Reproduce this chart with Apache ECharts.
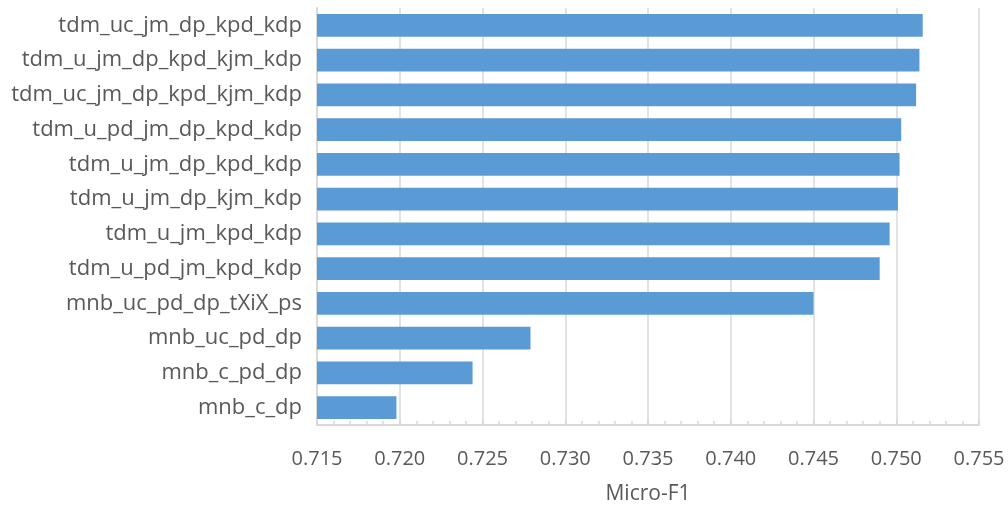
<!DOCTYPE html>
<html>
<head>
<meta charset="utf-8">
<script src="https://cdn.jsdelivr.net/npm/echarts@6/dist/echarts.min.js"></script>
<style>html,body{margin:0;padding:0;background:#fff;}#c{width:1008px;height:510px;}</style>
</head>
<body>
<div id="c"></div>
<script>
const categories = [
  "tdm_uc_jm_dp_kpd_kdp",
  "tdm_u_jm_dp_kpd_kjm_kdp",
  "tdm_uc_jm_dp_kpd_kjm_kdp",
  "tdm_u_pd_jm_dp_kpd_kdp",
  "tdm_u_jm_dp_kpd_kdp",
  "tdm_u_jm_dp_kjm_kdp",
  "tdm_u_jm_kpd_kdp",
  "tdm_u_pd_jm_kpd_kdp",
  "mnb_uc_pd_dp_tXiX_ps",
  "mnb_uc_pd_dp",
  "mnb_c_pd_dp",
  "mnb_c_dp"
];
const microF1 = [0.7516, 0.7514, 0.7512, 0.7503, 0.7502, 0.7501, 0.7496, 0.7490, 0.7450, 0.7279, 0.7244, 0.7198];
const xMin = 0.715, xMax = 0.755, xStep = 0.005;
const xName = "Micro-F1";

const chart = echarts.init(document.getElementById('c'), null, {renderer: 'canvas'});
const font = "'Open Sans', sans-serif";
chart.setOption({
  animation: false,
  grid: {left: 317, right: 29, top: 8, bottom: 82, containLabel: false},
  xAxis: {
    type: 'value', min: xMin, max: xMax, interval: xStep,
    name: xName, nameLocation: 'middle', nameGap: 59,
    nameTextStyle: {fontFamily: font, fontSize: 21, color: '#595959'},
    axisLine: {show: true, lineStyle: {color: '#d9d9d9', width: 2}},
    axisTick: {show: true, inside: true, length: 5, lineStyle: {color: '#d9d9d9', width: 1.5}},
    minorTick: {show: true, splitNumber: 5, length: 4, lineStyle: {color: '#d9d9d9', width: 1.5}},
    splitLine: {show: true, lineStyle: {color: '#d9d9d9', width: 1.5}},
    axisLabel: {fontFamily: font, fontSize: 20, color: '#595959', margin: 24,
      formatter: v => v.toFixed(3)}
  },
  yAxis: {
    type: 'category', data: categories, inverse: true,
    axisLine: {show: true, lineStyle: {color: '#d9d9d9', width: 2}},
    axisTick: {show: false},
    axisLabel: {fontFamily: font, fontSize: 22, color: '#595959', margin: 15}
  },
  series: [{
    type: 'bar', data: microF1, barCategoryGap: '34%',
    itemStyle: {color: '#5b9bd5'}
  }]
});
</script>
</body>
</html>
